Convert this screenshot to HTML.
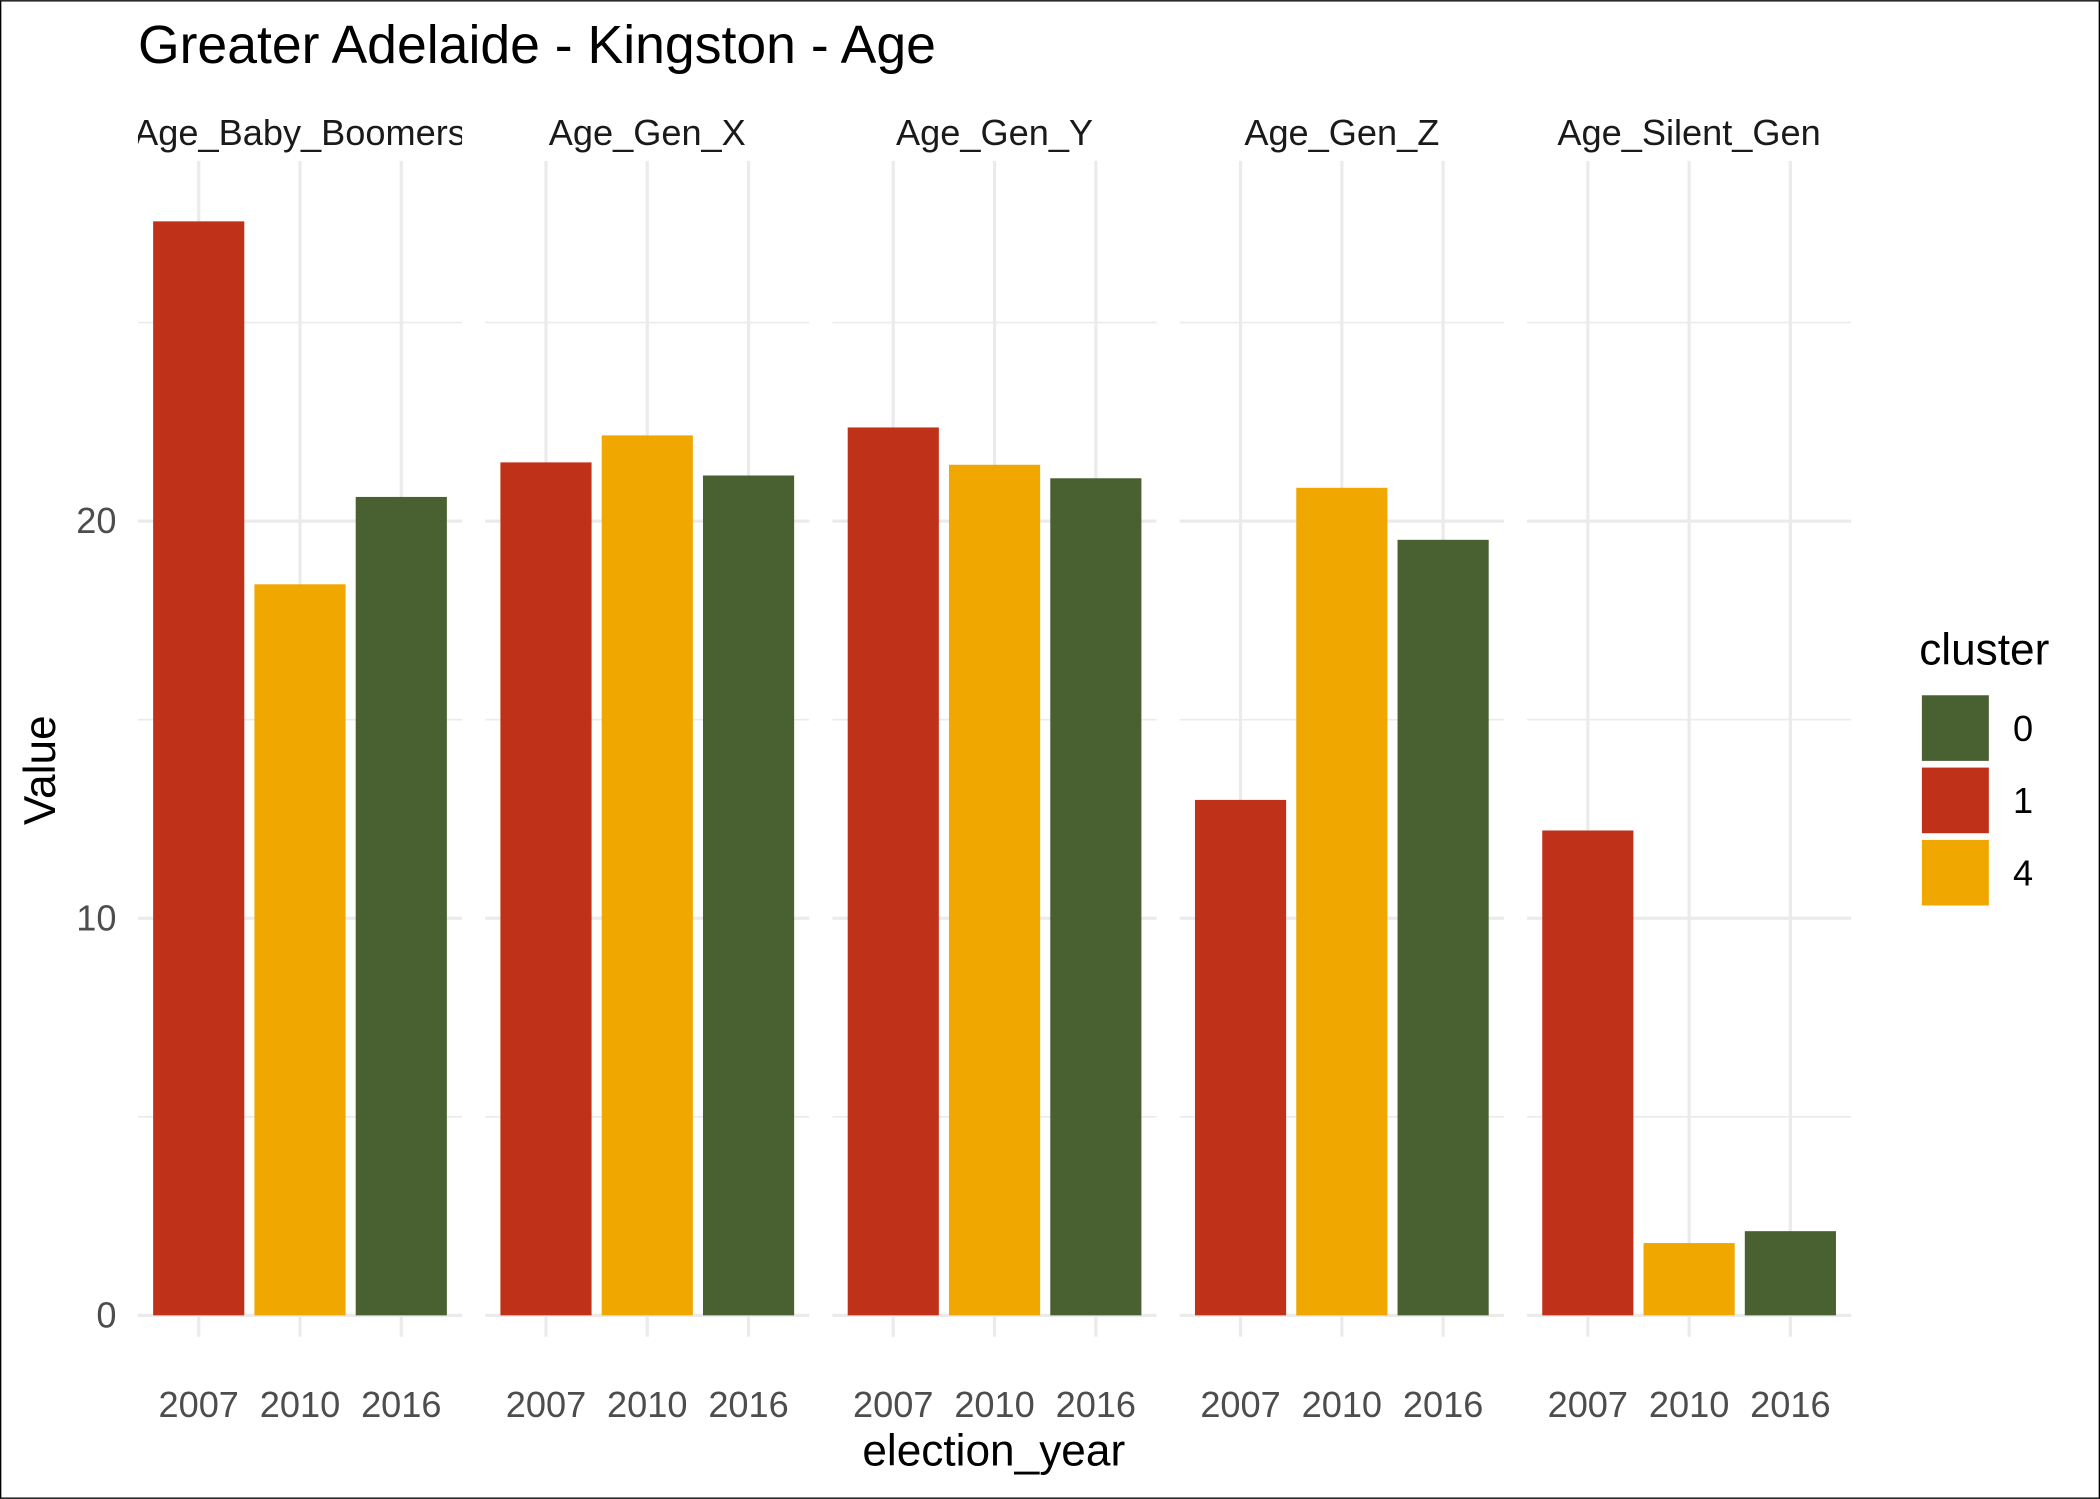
<!DOCTYPE html>
<html><head><meta charset="utf-8"><style>
html,body{margin:0;padding:0;background:#fff}
svg{display:block;font-family:"Liberation Sans",Arial,sans-serif}
</style></head><body>
<svg id="chart" width="2100" height="1499" viewBox="0 0 1568 1119" xmlns="http://www.w3.org/2000/svg">
<rect x="0.5" y="0.5" width="1567" height="1118" fill="#fff" stroke="#000" stroke-width="1"/>
<text x="103" y="47" font-size="40" fill="#000">Greater Adelaide - Kingston - Age</text>
<g id="panels"></g>
<text x="742" y="1094" font-size="33" text-anchor="middle" fill="#000">election_year</text>
<text transform="translate(41,575) rotate(-90)" font-size="33" text-anchor="middle" fill="#000">Value</text>
<g>
<text x="1433" y="496" font-size="33" fill="#000">cluster</text>
<rect x="1435" y="519" width="50" height="49" fill="#496131"/>
<text x="1503" y="553" font-size="27" fill="#000">0</text>
<rect x="1435" y="573" width="50" height="49" fill="#c0311a"/>
<text x="1503" y="607" font-size="27" fill="#000">1</text>
<rect x="1435" y="627" width="50" height="49" fill="#f0a800"/>
<text x="1503" y="661" font-size="27" fill="#000">4</text>
</g>
</svg>
<script>
const facets = ["Age_Baby_Boomers","Age_Gen_X","Age_Gen_Y","Age_Gen_Z","Age_Silent_Gen"];
const years = ["2007","2010","2016"];
const clusters = ["1","4","0"];
const values = [
  [27.55, 18.41, 20.61],
  [21.48, 22.16, 21.15],
  [22.36, 21.42, 21.08],
  [12.98, 20.84, 19.53],
  [12.21, 1.82, 2.12]
];
const yTicks = [0, 10, 20];
const yMinor = [5, 15, 25];
const colors = {"0":"#496131","1":"#c0311a","4":"#f0a800"};

const NS = "http://www.w3.org/2000/svg";
const g = document.getElementById("panels");
const panelX0 = 103, panelW = 242, panelGap = 17.3, yTop = 120, yBot = 982;
const pxPerUnit = (982 - 389) / 20;
function yScale(v){ return yBot - v * pxPerUnit; }
function panelLeft(i){ return panelX0 + i * (panelW + panelGap); }
const step = panelW / 3.2;
function xScale(i, j){ return panelLeft(i) + (j + 0.6) * step; }
function mk(tag, attrs){ const e = document.createElementNS(NS, tag); for (const k in attrs) e.setAttribute(k, attrs[k]); return e; }

const defs = mk("defs", {});
g.appendChild(defs);

facets.forEach((f, i) => {
  const L = panelLeft(i);
  const pg = mk("g", {});
  
  
  g.appendChild(pg);
  yMinor.forEach(v => {
    const ln = mk("line", {x1: L, x2: L + panelW, y1: yScale(v), y2: yScale(v), stroke: "#ebebeb", "stroke-width": 1.2});
    
    
    pg.appendChild(ln);
  });
  yTicks.forEach(v => {
    const ln = mk("line", {x1: L, x2: L + panelW, y1: yScale(v), y2: yScale(v), stroke: "#ebebeb", "stroke-width": 2.4});
    
    
    pg.appendChild(ln);
  });
  years.forEach((yr, j) => {
    const ln = mk("line", {x1: xScale(i, j), x2: xScale(i, j), y1: yTop, y2: yBot + 16, stroke: "#ebebeb", "stroke-width": 2.4});
    
    
    pg.appendChild(ln);
  });
  years.forEach((yr, j) => {
    const v = values[i][j];
    const bw = step * 0.9;
    const r = mk("rect", {x: xScale(i, j) - bw / 2, y: yScale(v), width: bw, height: yBot - yScale(v), fill: colors[clusters[j]]});
    
    
    pg.appendChild(r);
    const t = mk("text", {x: xScale(i, j), y: 1058, "font-size": 27, fill: "#4d4d4d", "text-anchor": "middle"});
    t.textContent = yr;
    
    
    pg.appendChild(t);
  });
  const cp = mk("clipPath", {id: "clip" + i});
  cp.appendChild(mk("rect", {x: L, y: 70, width: panelW, height: 50}));
  defs.appendChild(cp);
  const st = mk("text", {x: L + panelW / 2, y: 108, "font-size": 27, fill: "#1a1a1a", "text-anchor": "middle", "clip-path": "url(#clip" + i + ")"});
  st.textContent = f;
  
  
  pg.appendChild(st);
});
yTicks.forEach(v => {
  const t = mk("text", {x: 87, y: yScale(v) + 9, "font-size": 27, fill: "#4d4d4d", "text-anchor": "end"});
  t.textContent = v;
  
  
  g.appendChild(t);
});
</script>
</body></html>
